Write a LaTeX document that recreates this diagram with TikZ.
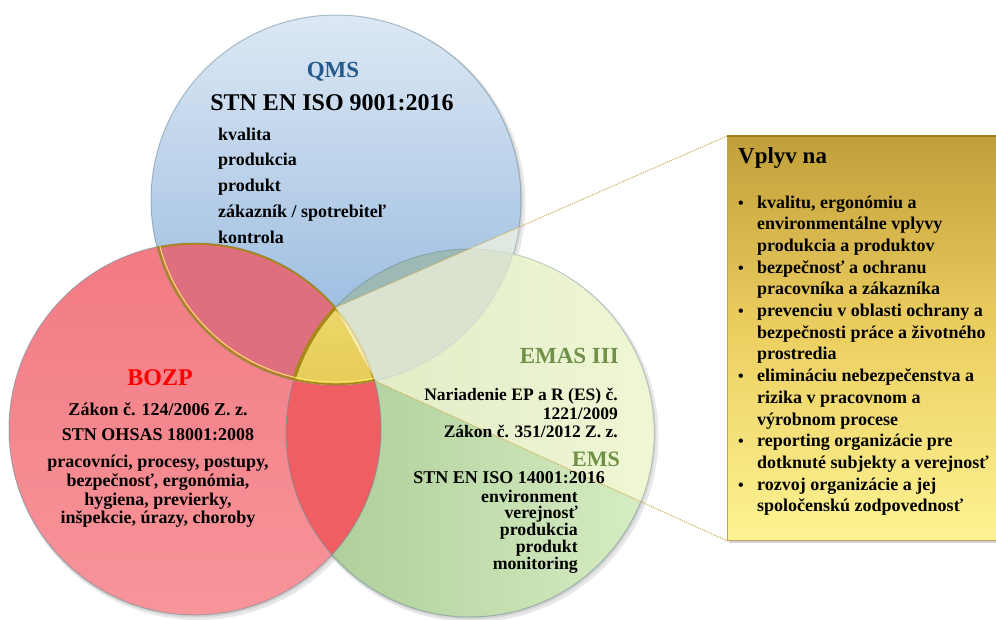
\documentclass[tikz,border=0pt]{standalone}
\usepackage{fontspec}
\setmainfont{Liberation Serif}
\usetikzlibrary{shadows}
\definecolor{qmsblue}{HTML}{245A8D}
\definecolor{bozpred}{HTML}{FF0000}
\definecolor{emsgreen}{HTML}{6F9046}
\definecolor{bluetop}{HTML}{DCE8F4}
\definecolor{bluebot}{HTML}{8FB4DC}
\definecolor{redtop}{HTML}{F27A83}
\definecolor{redbot}{HTML}{F7959A}
\definecolor{greenleft}{HTML}{A9CB95}
\definecolor{greenright}{HTML}{D8EDC4}
\definecolor{bluered}{HTML}{DE6F7E}
\definecolor{redgreen}{HTML}{EE5E62}
\definecolor{bluegreen}{HTML}{9DB9B6}
\definecolor{rim}{HTML}{6E8F99}
\definecolor{goldedge}{HTML}{A8861A}
\definecolor{goldtop}{HTML}{F2DE72}
\definecolor{goldbot}{HTML}{D2AE32}
\definecolor{boxtop}{HTML}{C29F3A}
\definecolor{boxmid}{HTML}{EDD062}
\definecolor{boxbot}{HTML}{FDF393}
\definecolor{boxrim}{HTML}{9C7E1E}
\definecolor{calloutline}{HTML}{C9A64A}
\definecolor{wedgefill}{HTML}{FFFDE0}
\def\blueC{(336,200) circle (185pt)}
\def\redC{(195,429) circle (186pt)}
\def\greenC{(470,433) circle (184pt)}
\begin{document}
\begin{tikzpicture}[x=1pt,y=-1pt,
  ttl/.style={font=\bfseries\fontsize{23}{26}\selectfont, inner sep=0pt},
  big/.style={font=\bfseries\fontsize{24}{27}\selectfont, inner sep=0pt},
  tx/.style={font=\bfseries\fontsize{18}{20}\selectfont, inner sep=0pt},
  txe/.style={font=\bfseries\fontsize{17.5}{19}\selectfont, inner sep=0pt},
  txs/.style={font=\bfseries\fontsize{17.8}{19}\selectfont, inner sep=0pt},
  bul/.style={font=\bfseries\fontsize{16}{18}\selectfont, inner sep=0pt, anchor=base},
  rimline/.style={draw=rim, line width=1pt, opacity=.55},
  callout/.style={draw=calloutline, line width=.9pt, dash pattern=on 1pt off 1pt},
  shadowring/.style={fill=black, opacity=.09}
]
\useasboundingbox (0,0) rectangle (996,619);
\clip (0,0) rectangle (996,619);
\fill[white] (0,0) rectangle (996,619);

% soft shadows
\fill[shadowring] (338.5,203) circle (187pt);
\fill[shadowring] (337,201.5) circle (185.8pt);
\fill[shadowring] (197.5,432) circle (188pt);
\fill[shadowring] (196,430.5) circle (186.8pt);
\fill[shadowring] (472.5,436) circle (186pt);
\fill[shadowring] (471,434.5) circle (184.8pt);

% circles
\shade[top color=bluetop, bottom color=bluebot] \blueC;
\shade[top color=redtop, bottom color=redbot] \redC;
\shade[left color=greenleft, right color=greenright] \greenC;

% overlaps
\begin{scope}
  \clip \redC;
  \fill[bluered] \blueC;
\end{scope}
\begin{scope}
  \clip \redC;
  \fill[redgreen] \greenC;
\end{scope}
\begin{scope}
  \clip \blueC;
  \fill[bluegreen] \greenC;
\end{scope}

% rims
\draw[rimline] \blueC;
\draw[rimline] \redC;
\draw[rimline] \greenC;

% triple intersection
\begin{scope}
  \clip \blueC;
  \clip \redC;
  \shade[top color=goldtop, bottom color=goldbot] \greenC;
  \draw[goldedge, line width=3.4pt] \blueC;
  \draw[goldedge, line width=3.4pt] \redC;
  \draw[goldedge, line width=3.4pt] \greenC;
  \draw[yellow!60!white, line width=1pt, opacity=.8] (336,200) circle (182pt);
\end{scope}

\coordinate (tv) at (335.5,307.5);
\coordinate (brv) at (376,381.5);

% box
\node[anchor=north west, minimum width=290pt, minimum height=404pt, inner sep=0pt,
      top color=boxtop, bottom color=boxbot, middle color=boxmid,
      draw=boxrim!70, line width=.8pt,
      drop shadow={shadow xshift=2pt, shadow yshift=-3pt, opacity=.35}] (box) at (727,136) {};
\draw[boxrim, line width=2.2pt] (box.north west) -- (box.north east);

% callout wedge (tint visible only over the circles)
\begin{scope}
  \clip (tv) -- (box.north west) -- (box.south west) -- (brv) -- cycle;
  \fill[wedgefill, opacity=.62] \blueC \redC \greenC;
\end{scope}
\draw[callout] (tv) -- (box.north west);
\draw[callout] (brv) -- (box.south west);

% QMS texts
\node[ttl, text=qmsblue, anchor=base] (qms) at (333,77) {QMS};
\node[big, anchor=base] (qmsstd) at (332,110) {STN EN ISO 9001:2016};
\node[tx, anchor=base west] (q1) at (218,140) {kvalita};
\node[tx, anchor=base west] (q2) at (218,165.75) {produkcia};
\node[tx, anchor=base west] (q3) at (218,191.5) {produkt};
\node[tx, anchor=base west] (q4) at (218,217.25) {zákazník / spotrebiteľ};
\node[tx, anchor=base west] (q5) at (218,243) {kontrola};

% BOZP texts
\node[big, text=bozpred, anchor=base] (bozp) at (160,385) {BOZP};
\node[tx, anchor=base] (r1) at (158,415) {Zákon č. 124/2006 Z. z.};
\node[tx, anchor=base] (r2) at (158,440) {STN OHSAS 18001:2008};
\node[tx, anchor=base] (r3) at (158,467) {pracovníci, procesy, postupy,};
\node[tx, anchor=base] (r4) at (158,486) {bezpečnosť, ergonómia,};
\node[tx, anchor=base] (r5) at (158,505) {hygiena, previerky,};
\node[tx, anchor=base] (r6) at (158,523.5) {inšpekcie, úrazy, choroby};

% EMAS / EMS texts
\node[ttl, text=emsgreen, anchor=base east] (emas) at (619,363) {EMAS III};
\node[txe, anchor=base east] (e1) at (618,400.5) {Nariadenie EP a R (ES) č.};
\node[txe, anchor=base east] (e2) at (618,419) {1221/2009};
\node[txe, anchor=base east] (e3) at (618,437.5) {Zákon č. 351/2012 Z. z.};
\node[font=\bfseries\fontsize{22}{24}\selectfont, inner sep=0pt, text=emsgreen, anchor=base east] (ems) at (620,466) {EMS};
\node[tx, anchor=base east] (g1) at (605,483) {STN EN ISO 14001:2016};
\node[txs, anchor=base east] (g2) at (578,502) {environment};
\node[txs, anchor=base east] (g3) at (578,518.5) {verejnosť};
\node[txs, anchor=base east] (g4) at (578,535) {produkcia};
\node[txs, anchor=base east] (g5) at (578,552) {produkt};
\node[txs, anchor=base east] (g6) at (578,569) {monitoring};

% box texts
\node[ttl, anchor=base west] (vplyv) at (738,163) {Vplyv na};
\node[bul] (u1) at (741,208) {•};
\node[tx, anchor=base west] (t1) at (757,208) {kvalitu, ergonómiu a};
\node[tx, anchor=base west] (t2) at (757,229.7) {environmentálne vplyvy};
\node[tx, anchor=base west] (t3) at (757,251.4) {produkcia a produktov};
\node[bul] (u2) at (741,273.1) {•};
\node[tx, anchor=base west] (t4) at (757,273.1) {bezpečnosť a ochranu};
\node[tx, anchor=base west] (t5) at (757,294.8) {pracovníka a zákazníka};
\node[bul] (u3) at (741,316.5) {•};
\node[tx, anchor=base west] (t6) at (757,316.5) {prevenciu v oblasti ochrany a};
\node[tx, anchor=base west] (t7) at (757,338.2) {bezpečnosti práce a životného};
\node[tx, anchor=base west] (t8) at (757,359.9) {prostredia};
\node[bul] (u4) at (741,381.6) {•};
\node[tx, anchor=base west] (t9) at (757,381.6) {elimináciu nebezpečenstva a};
\node[tx, anchor=base west] (t10) at (757,403.3) {rizika v pracovnom a};
\node[tx, anchor=base west] (t11) at (757,425) {výrobnom procese};
\node[bul] (u5) at (741,446.7) {•};
\node[tx, anchor=base west] (t12) at (757,446.7) {reporting organizácie pre};
\node[tx, anchor=base west] (t13) at (757,468.4) {dotknuté subjekty a verejnosť};
\node[bul] (u6) at (741,490.1) {•};
\node[tx, anchor=base west] (t14) at (757,490.1) {rozvoj organizácie a jej};
\node[tx, anchor=base west] (t15) at (757,511.8) {spoločenskú zodpovednosť};
\end{tikzpicture}
\end{document}
